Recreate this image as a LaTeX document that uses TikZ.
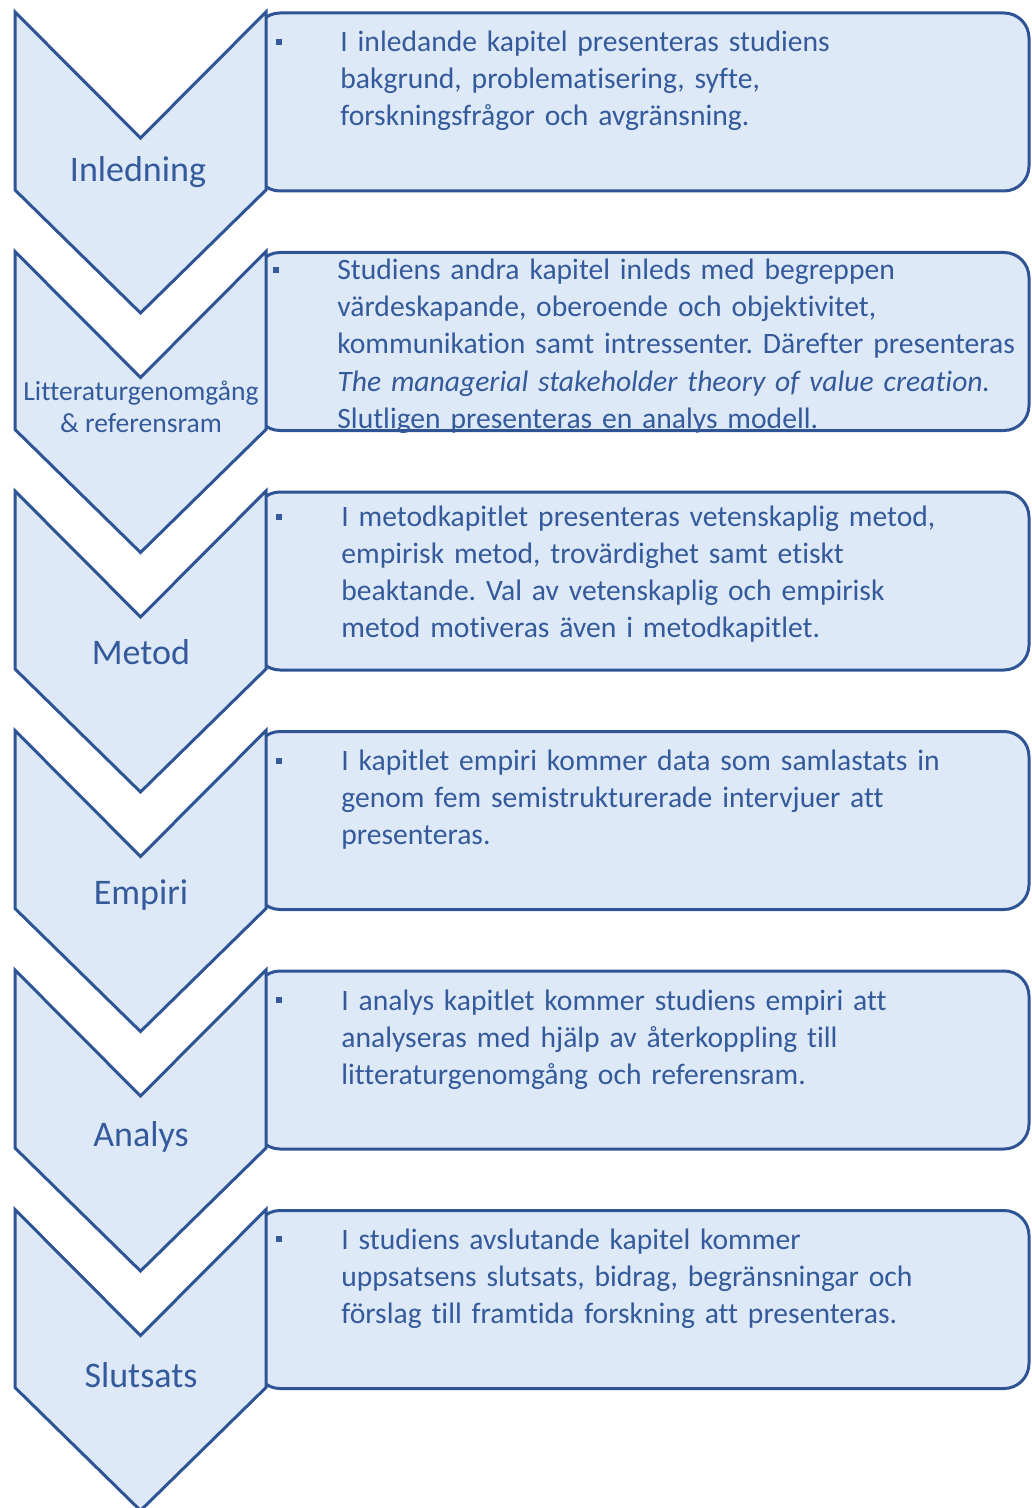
\documentclass[tikz,border=0pt]{standalone}
\usepackage{fontspec}
\setmainfont{Carlito}[Ligatures=NoCommon]
\usepackage{tikz}
\frenchspacing
\definecolor{chapline}{RGB}{47,84,150}
\definecolor{chapfill}{RGB}{221,233,246}
\definecolor{chaptext}{RGB}{52,90,155}
\tikzset{
  chevron/.style={draw=chapline, fill=chapfill, line width=1.5pt, line join=miter},
  infobox/.style={draw=chapline, fill=chapfill, line width=1.5pt, rounded corners=12.5pt},
  chaplabel/.style={text=chaptext, font=\fontsize{18}{20}\selectfont, inner sep=0pt, anchor=base},
  infotext/.style={text=chaptext, font=\fontsize{14.8}{18.5}\selectfont, align=left, text width=380pt, anchor=base west, inner sep=0pt},
  bulletmark/.style={fill=chaptext, minimum size=3pt, inner sep=0pt}
}

\begin{document}
\begin{tikzpicture}[x=0.5pt, y=-0.5pt]
\useasboundingbox (0,0) rectangle (1032,1508);
\foreach \i in {0,...,5} {
  \pgfmathsetmacro{\dy}{239.5*\i}
  \draw[infobox] (255,13+\dy) rectangle (1029,191+\dy);
  \draw[chevron] (15,12+\dy) -- (140.5,138+\dy) -- (266,12+\dy) -- (266,190+\dy) -- (140.5,313+\dy) -- (15,190+\dy) -- cycle;
}
\node[chaplabel] (inledning) at (138,182) {Inledning};
\node[chaplabel, font=\fontsize{13.8}{16}\selectfont, align=center, anchor=center] (litteratur) at (141,407) {Litteraturgenomgång\\\& referensram};
\node[chaplabel] (metod) at (141,664) {Metod};
\node[chaplabel] (empiri) at (141,904) {Empiri};
\node[chaplabel] (analys) at (141,1146) {Analys};
\node[chaplabel] (slutsats) at (141,1387) {Slutsats};

\node[bulletmark] (b1) at (279,42) {};
\node[bulletmark] (b2) at (276,270) {};
\node[bulletmark] (b3) at (279,517) {};
\node[bulletmark] (b4) at (279,761) {};
\node[bulletmark] (b5) at (279,1000) {};
\node[bulletmark] (b6) at (279,1239) {};

\node[infotext] (t1) at (340,52) {I inledande kapitel presenteras studiens\\bakgrund, problematisering, syfte,\\forskningsfrågor och avgränsning.};
\node[infotext] (t2) at (337,280) {Studiens andra kapitel inleds med begreppen\\värdeskapande, oberoende och objektivitet,\\kommunikation samt intressenter. Därefter presenteras\\\textit{The managerial stakeholder theory of value creation.}\\Slutligen presenteras en analys modell.};
\node[infotext] (t3) at (341,526) {I metodkapitlet presenteras vetenskaplig metod,\\empirisk metod, trovärdighet samt etiskt\\beaktande. Val av vetenskaplig och empirisk\\metod motiveras även i metodkapitlet.};
\node[infotext] (t4) at (341,770) {I kapitlet empiri kommer data som samlastats in\\genom fem semistrukturerade intervjuer att\\presenteras.};
\node[infotext] (t5) at (341,1010) {I analys kapitlet kommer studiens empiri att\\analyseras med hjälp av återkoppling till\\litteraturgenomgång och referensram.};
\node[infotext] (t6) at (341,1249) {I studiens avslutande kapitel kommer\\uppsatsens slutsats, bidrag, begränsningar och\\förslag till framtida forskning att presenteras.};
\end{tikzpicture}
\end{document}
